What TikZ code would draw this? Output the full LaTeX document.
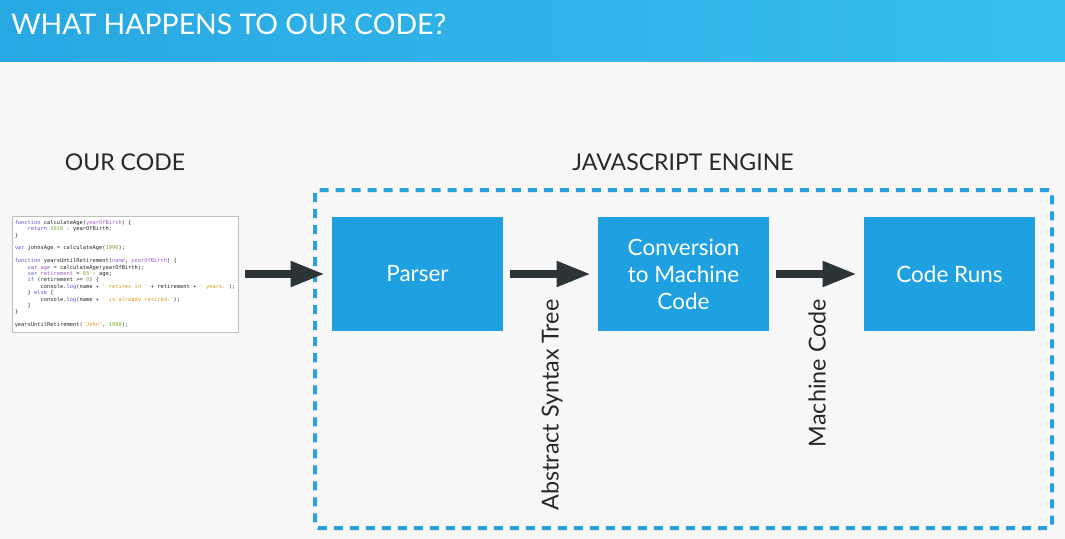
\documentclass[tikz,border=0pt]{standalone}
\usepackage{fontspec}
\setmainfont{Lato}
\newfontfamily\codefont{DejaVu Sans Mono}
\usepackage{tikz}
\usetikzlibrary{arrows.meta}
\definecolor{barblue}{RGB}{40,168,226}
\definecolor{barlight}{RGB}{56,190,240}
\definecolor{boxblue}{RGB}{31,161,225}
\definecolor{frameblue}{RGB}{43,160,222}
\definecolor{arrowdark}{RGB}{45,52,56}
\definecolor{pagegray}{RGB}{247,247,247}
\definecolor{textdark}{RGB}{40,40,40}
\definecolor{kwcol}{RGB}{92,92,205}
\definecolor{prmcol}{RGB}{165,95,200}
\definecolor{numcol}{RGB}{125,170,40}
\definecolor{strcol}{RGB}{222,152,30}
\newcommand\cdkw[1]{\textcolor{kwcol}{#1}}
\newcommand\cdprm[1]{\textcolor{prmcol}{#1}}
\newcommand\cdnum[1]{\textcolor{numcol}{#1}}
\newcommand\cdstr[1]{\textcolor{strcol}{#1}}
\newcommand\cdind[1]{\phantom{#1}}
\tikzset{
    stage/.style={fill=boxblue, text=white, minimum width=4.275cm, minimum height=2.85cm,
        align=center, font=\fontsize{16}{19.2}\selectfont},
    flow/.style={draw=arrowdark, line width=0.19cm, -{Triangle[length=0.85cm, width=0.6cm]},
        shorten <=0.175cm, shorten >=0.175cm},
    heading/.style={text=textdark, font=\fontsize{16.4}{20}\selectfont},
    sidelabel/.style={text=textdark, rotate=90, font=\fontsize{16.6}{20}\selectfont}
}

\begin{document}
\begin{tikzpicture}[x=0.025cm, y=-0.025cm]
    \useasboundingbox (0,0) rectangle (1065,539);
    \fill[pagegray] (0,0) rectangle (1065,539);
    \shade[left color=barblue, right color=barlight] (0,0) rectangle (1065,61);
    \node[anchor=west, text=white, inner sep=0, font=\fontsize{20.2}{24}\selectfont] (title) at (11,24) {WHAT HAPPENS TO OUR CODE?};

    \node[heading] (ourcode) at (125,162) {OUR CODE};
    \node[heading] (engine) at (683,162) {JAVASCRIPT ENGINE};
    \draw[frameblue, line width=0.1cm, dash pattern=on 0.225cm off 0.175cm, rounded corners=0.08cm]
        (315,190) rectangle (1052,528);

    \node[draw={rgb,255:red,190;green,190;blue,190}, fill=white, line width=0.4pt,
        minimum width=5.65cm, minimum height=2.9cm, inner sep=0.05cm, align=left, text=textdark,
        font=\codefont\fontsize{3.83}{4.54}\selectfont] (code) at (125,274) {%
\cdkw{function} calculateAge(\cdprm{yearOfBirth}) \{\\
\cdind{0000}\cdkw{return} \cdnum{2016} - yearOfBirth;\\
\}\\
\mbox{}\\
\cdkw{var} johnsAge = calculateAge(\cdnum{1990});\\
\mbox{}\\
\cdkw{function} yearsUntilRetirement(\cdprm{name}, \cdprm{yearOfBirth}) \{\\
\cdind{0000}\cdkw{var} \cdprm{age} = calculateAge(yearOfBirth);\\
\cdind{0000}\cdkw{var} \cdprm{retirement} = \cdnum{65} - age;\\
\cdind{0000}\cdkw{if} (retirement >= \cdnum{0}) \{\\
\cdind{00000000}console.\cdkw{log}(name + \cdstr{' retires in '} + retirement + \cdstr{' years.'});\\
\cdind{0000}\} \cdkw{else} \{\\
\cdind{00000000}console.\cdkw{log}(name + \cdstr{' is already retired.'});\\
\cdind{0000}\}\\
\}\\
\mbox{}\\
yearsUntilRetirement(\cdstr{'John'}, \cdnum{1990});};

    \node[stage] (parser) at (417.5,274) {Parser};
    \node[stage] (convert) at (683.5,274) {Conversion\\to Machine\\Code};
    \node[stage] (runs) at (949.5,274) {Code Runs};

    \draw[flow] (code.east) -- (parser.west);
    \draw[flow] (parser.east) -- (convert.west);
    \draw[flow] (convert.east) -- (runs.west);

    \node[sidelabel] (ast) at (552,405) {Abstract Syntax Tree};
    \node[sidelabel] (mcode) at (817,373) {Machine Code};
\end{tikzpicture}
\end{document}
